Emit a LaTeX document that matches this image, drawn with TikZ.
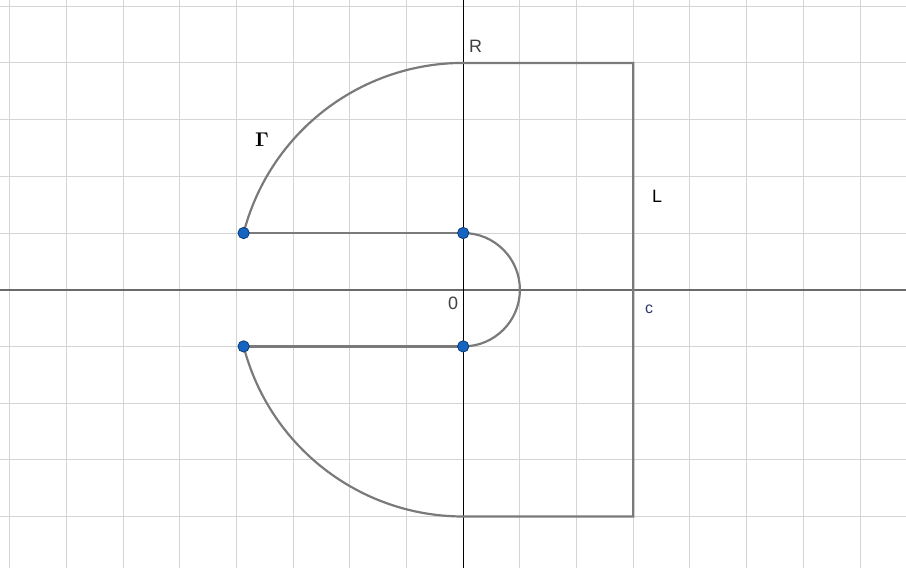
\documentclass[tikz,border=0pt]{standalone}
\usepackage{amsmath,amssymb}
\usepackage[no-math]{fontspec}
\setsansfont{Liberation Sans}
\usepackage{tikz}
\usetikzlibrary{arrows.meta,positioning,calc}
\definecolor{curvegray}{HTML}{7A7A7A}
\definecolor{gridgray}{HTML}{D4D4D4}
\definecolor{axisgray}{HTML}{6A6A6A}
\definecolor{ptblue}{HTML}{1565C0}
\definecolor{ptedge}{HTML}{0B3A78}
\definecolor{cblue}{HTML}{2A3A6A}

\begin{document}
\begin{tikzpicture}[
    gridline/.style={draw=gridgray, line width=0.5pt},
    xax/.style={draw=axisgray, line width=0.8pt},
    yax/.style={draw=black, line width=0.6pt},
    curve/.style={draw=curvegray, line width=1.1pt},
    pt/.style={circle, draw=ptedge, fill=ptblue, line width=0.4pt, minimum size=0.2cm, inner sep=0pt},
    lbl/.style={font=\sffamily\small, text=black!75}
]
\useasboundingbox (-8.17,-4.90) rectangle (7.81,5.11);
\fill[white] (-8.17,-4.90) rectangle (7.81,5.11);
\draw[gridline] (-8.17,-4.90) grid (7.81,5.11);
\draw[xax] (-8.17,0) -- (7.81,0);
\draw[yax] (0,-4.90) -- (0,5.11);

\coordinate (Rtop) at (0,4);
\coordinate (Rbot) at (0,-4);
\coordinate (Ltop) at (3,4);
\coordinate (Lbot) at (3,-4);
\coordinate (a) at ({-sqrt(15)},1);
\coordinate (b) at (0,1);
\coordinate (d) at ({-sqrt(15)},-1);
\coordinate (e) at (0,-1);

\draw[curve] (a) arc[start angle={180-asin(0.25)}, end angle=90, radius=4]
    -- (Ltop) -- (Lbot) -- (Rbot)
    arc[start angle=270, end angle={180+asin(0.25)}, radius=4];
\draw[curve] (a) -- (b);
\draw[curve] (d) -- (e);
\draw[curve] (b) arc[start angle=90, end angle=-90, radius=1];

\node[pt] (pa) at (a) {};
\node[pt] (pb) at (b) {};
\node[pt] (pd) at (d) {};
\node[pt] (pe) at (e) {};

\node[lbl] (lR) at (0.22,4.29) {R};
\node[lbl] (l0) at (-0.18,-0.24) {0};
\node[lbl, text=black] (lL) at (3.42,1.64) {L};
\node[font=\sffamily\footnotesize, text=cblue] (lc) at (3.28,-0.35) {c};
\node[font=\normalsize] (lG) at (-3.55,2.65) {$\mathbf{\Gamma}$};
\end{tikzpicture}
\end{document}
